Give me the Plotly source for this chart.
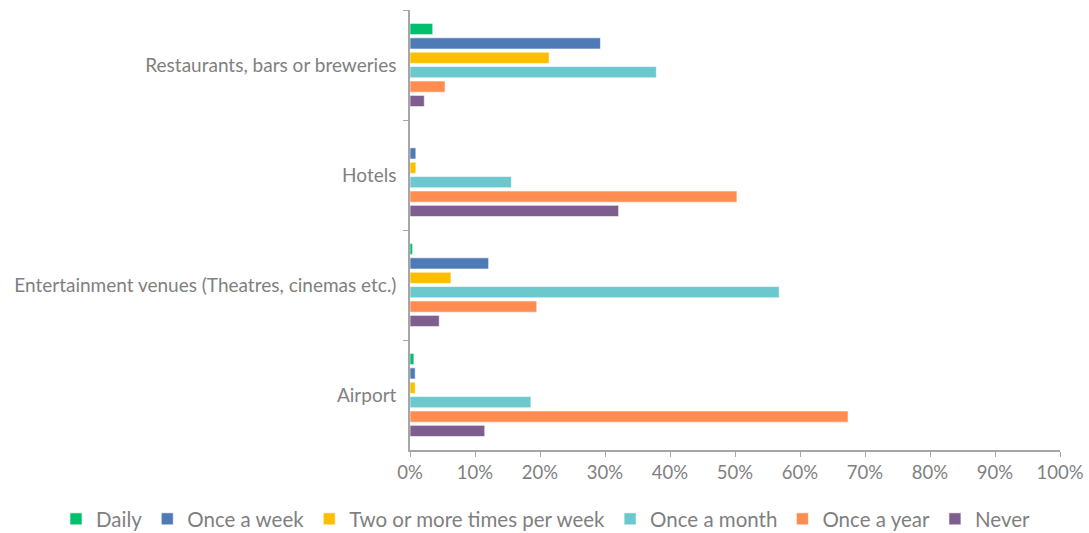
import plotly.graph_objects as go

categories = [
    "Restaurants, bars or breweries",
    "Hotels",
    "Entertainment venues (Theatres, cinemas etc.)",
    "Airport",
]
series_names = [
    "Daily",
    "Once a week",
    "Two or more times per week",
    "Once a month",
    "Once a year",
    "Never",
]
daily = [3.5, 0.0, 0.4, 0.6]
once_a_week = [29.3, 0.9, 12.1, 0.8]
two_or_more_per_week = [21.4, 0.9, 6.3, 0.8]
once_a_month = [37.9, 15.6, 56.8, 18.6]
once_a_year = [5.4, 50.3, 19.5, 67.4]
never = [2.2, 32.1, 4.5, 11.5]

series_values = [daily, once_a_week, two_or_more_per_week, once_a_month, once_a_year, never]
colors = ["#00C06E", "#4E7BB6", "#FBBF00", "#6BC8CC", "#FF8C50", "#7E5E8F"]

x_ticks = list(range(0, 101, 10))
x_tick_labels = [f"{v}%" for v in x_ticks]

label_color = "#7F7F7F"
axis_color = "#A6A6A6"
font_family = "Lato, 'Open Sans', sans-serif"

# plot area geometry (pixels)
W, H = 1089, 533
L, R, T, B = 410, 29, 10, 83
plot_w = W - L - R
plot_h = H - T - B

fig = go.Figure()
for name, vals, col in zip(series_names, series_values, colors):
    fig.add_trace(go.Bar(
        name=name,
        y=categories,
        x=vals,
        orientation="h",
        marker=dict(color=col, line=dict(color="rgba(255,255,255,0.6)", width=1)),
    ))

fig.update_layout(
    width=W,
    height=H,
    margin=dict(l=L, r=R, t=T, b=B, autoexpand=False),
    paper_bgcolor="white",
    plot_bgcolor="white",
    barmode="group",
    bargap=0.215,
    bargroupgap=0.22,
    font=dict(family=font_family, color=label_color, size=18),
    legend=dict(
        orientation="h",
        # anchored left of the plot area so the single row may span the full width
        x=(56 - L) / plot_w,
        xanchor="left",
        y=-(519 - (T + plot_h)) / plot_h,
        yanchor="middle",
        font=dict(size=20.5, color=label_color),
        traceorder="normal",
        itemwidth=30,
        tracegroupgap=0,
    ),
    xaxis=dict(
        range=[0, 100],
        tickvals=x_ticks,
        ticktext=x_tick_labels,
        showgrid=False,
        zeroline=False,
        showline=True,
        linecolor=axis_color,
        linewidth=1.5,
        ticks="outside",
        ticklen=5,
        tickcolor=axis_color,
        tickfont=dict(size=18.5, color=label_color),
    ),
    yaxis=dict(
        autorange="reversed",
        showgrid=False,
        showline=True,
        linecolor=axis_color,
        linewidth=1.5,
        ticks="outside",
        tickson="boundaries",
        ticklen=5,
        tickcolor=axis_color,
        tickfont=dict(size=19, color=label_color),
        ticklabelstandoff=8,
    ),
)

fig.write_html("out.html")
